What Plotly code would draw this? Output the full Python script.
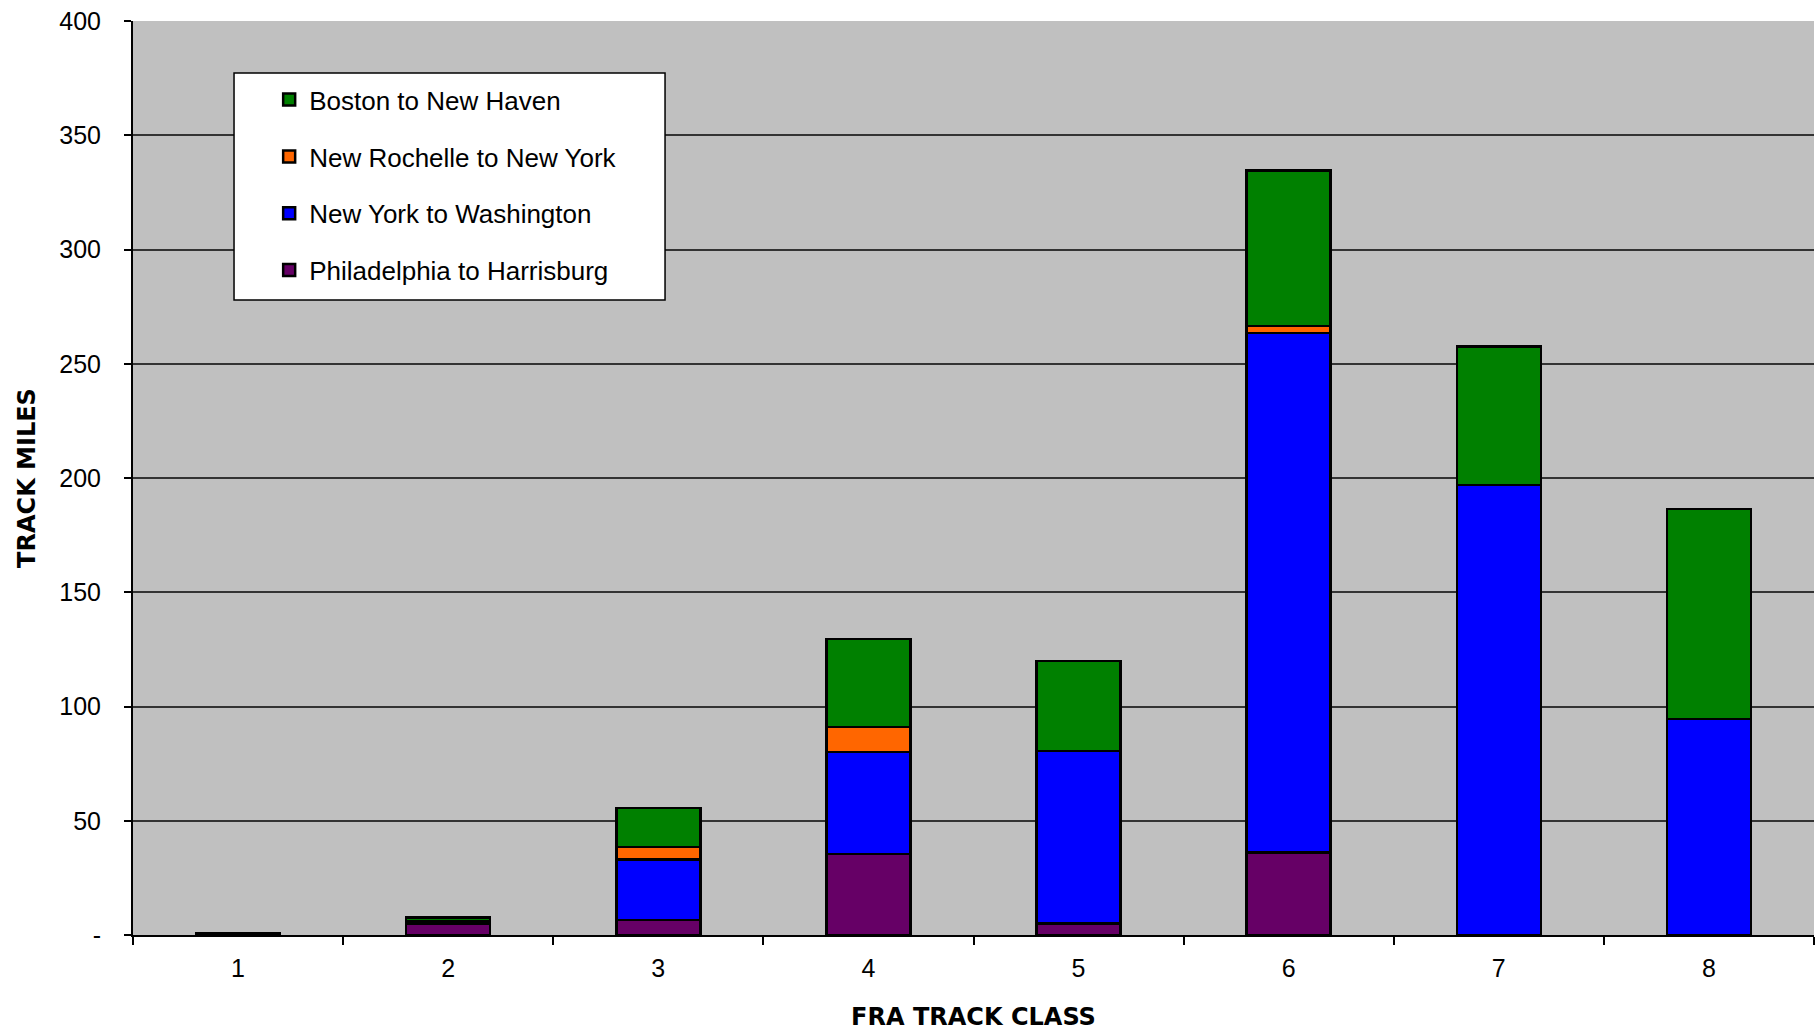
import plotly.graph_objects as go

# FRA track classes on the x axis
track_classes = ["1", "2", "3", "4", "5", "6", "7", "8"]

# Track miles per corridor segment, per track class
philadelphia_harrisburg = [0.8, 4.8, 6.5, 35.5, 5.0, 36.0, 0.0, 0.0]
new_york_washington = [0.0, 1.2, 26.5, 44.5, 75.5, 227.5, 197.0, 94.5]
new_rochelle_new_york = [0.0, 0.0, 5.5, 11.0, 0.0, 3.0, 0.0, 0.0]
boston_new_haven = [0.0, 1.6, 17.0, 38.5, 39.5, 68.0, 60.5, 92.0]

y_tick_values = [0, 50, 100, 150, 200, 250, 300, 350, 400]
y_tick_labels = ["-", "50", "100", "150", "200", "250", "300", "350", "400"]

# (legend name, values, fill colour, legend rank) -- listed bottom of stack first
series = [
    ("Philadelphia to Harrisburg", philadelphia_harrisburg, "#660066", 4),
    ("New York to Washington", new_york_washington, "#0000FF", 3),
    ("New Rochelle to New York", new_rochelle_new_york, "#FF6600", 2),
    ("Boston to New Haven", boston_new_haven, "#008000", 1),
]

FONT = "Liberation Sans, Arial, sans-serif"
BOLD_FONT = "DejaVu Sans, Verdana, sans-serif"

fig = go.Figure()
for i, (name, values, color, rank) in enumerate(series):
    fig.add_trace(go.Bar(
        x=track_classes,
        y=values,
        name=name,
        legendgroup=f"g{i}",
        legendrank=rank,
        width=0.4,
        marker=dict(color=color, line=dict(color="black", width=2.5)),
    ))

# White framed box behind the legend entries
fig.add_shape(
    type="rect", xref="paper", yref="paper",
    x0=0.0601, x1=0.3165, y0=0.6947, y1=0.9431,
    fillcolor="white", line=dict(color="black", width=1.5),
    layer="above",
)

fig.update_layout(
    width=1816,
    height=1031,
    barmode="stack",
    paper_bgcolor="white",
    plot_bgcolor="#C0C0C0",
    margin=dict(l=133, r=2, t=21, b=96),
    font=dict(family=FONT, size=25, color="black"),
    showlegend=True,
    legend=dict(
        x=0.081, y=0.9396, xanchor="left", yanchor="top",
        bgcolor="rgba(0,0,0,0)", borderwidth=0,
        traceorder="grouped",
        tracegroupgap=20,
        font=dict(family=FONT, size=26, color="black"),
    ),
    xaxis=dict(
        type="category",
        tickson="boundaries",
        ticks="outside", ticklen=8, tickwidth=1.5, tickcolor="black",
        showline=True, linecolor="black", linewidth=2,
        showgrid=False,
        tickfont=dict(family=FONT, size=25),
        ticklabelstandoff=10,
        title=dict(text="<b>FRA TRACK CLASS</b>", font=dict(family=BOLD_FONT, size=24), standoff=29),
    ),
    yaxis=dict(
        range=[0, 400],
        tickvals=y_tick_values, ticktext=y_tick_labels,
        ticks="outside", ticklen=7, tickwidth=1.5, tickcolor="black",
        showline=True, linecolor="black", linewidth=2,
        showgrid=True, gridcolor="#333333", gridwidth=1.5,
        zeroline=False,
        tickfont=dict(family=FONT, size=25),
        ticklabelstandoff=18,
        title=dict(text="<b>TRACK MILES</b>", font=dict(family=BOLD_FONT, size=24), standoff=17),
    ),
)

fig.write_html("out.html")
